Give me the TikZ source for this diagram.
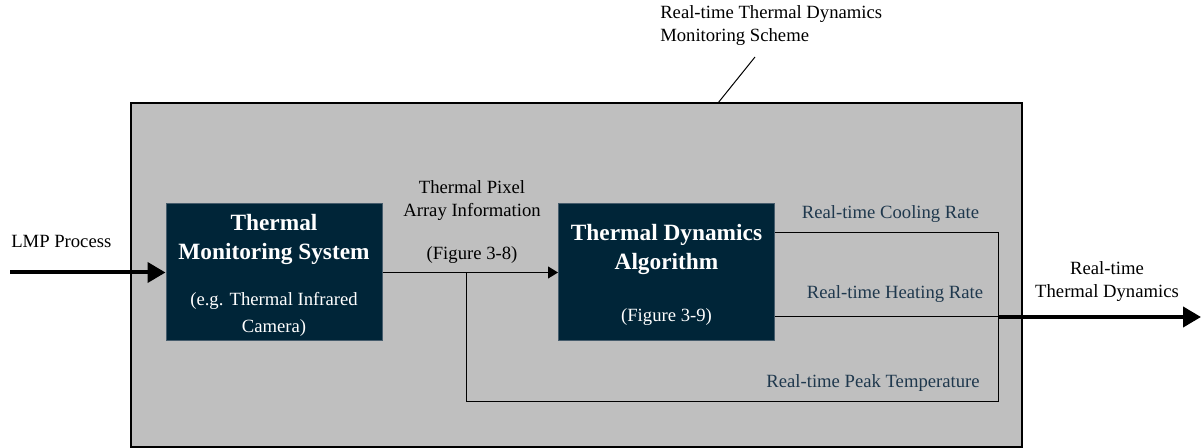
\documentclass[tikz,border=0pt]{standalone}
\usepackage{fontspec}
\setmainfont{Liberation Serif}
\usepackage{tikz}
\usetikzlibrary{arrows.meta}

\definecolor{schemegray}{RGB}{191,191,191}
\definecolor{blocknavy}{RGB}{0,37,56}
\definecolor{blockedge}{RGB}{70,92,108}
\definecolor{rateslate}{RGB}{31,56,77}

\newcommand{\blocktitle}{\fontsize{17.5}{21}\selectfont\bfseries}

\tikzset{
  schemebox/.style={draw=black,fill=schemegray,line width=1.5,minimum width=668.25pt,minimum height=258pt,inner sep=0pt},
  algobox/.style={draw=blockedge,fill=blocknavy,text=white,line width=0.75,minimum width=162pt,minimum height=102.75pt,inner sep=0pt,align=center,font=\fontsize{14}{20}\selectfont},
  plaintext/.style={inner sep=0.75pt,font=\fontsize{14}{17.25}\selectfont},
  ratetext/.style={plaintext,text=rateslate},
  thinarrow/.style={line width=0.75,-{Triangle[length=7.5pt,width=9pt]}},
  thickarrow/.style={line width=3,-{Triangle[length=13.5pt,width=15pt]}},
}

\begin{document}
\begin{tikzpicture}[x=0.75pt,y=0.75pt,yscale=-1,xscale=1]
\useasboundingbox (0,0) rectangle (1202,448);

%Shape: Rectangle [id:scheme]
\node[schemebox] (scheme) at (576.5,275) {};
%Shape: Rectangle [id:tms]
\node[algobox] (tms) at (274,272.5) {\rule{0pt}{16.5pt}\blocktitle Thermal\\[1.75pt] \blocktitle Monitoring System\\[14.5pt] (e.g. Thermal Infrared\\ Camera)};
%Shape: Rectangle [id:tda]
\node[algobox] (tda) at (666.5,272.5) {\rule{0pt}{16.5pt}\blocktitle Thermal Dynamics\\[1.75pt] \blocktitle Algorithm\\[19pt] (Figure 3-9)};

% corner points of the wiring
\coordinate (split) at (466,272.5);
\coordinate (cool) at (998,233);
\coordinate (bus) at (998,317);
\coordinate (peak) at (998,402);
\coordinate (lmp) at (10,272.5);
\coordinate (out) at (1201,317);
\coordinate (tag) at (755,57);
\coordinate (tagend) at (718,103);

%Straight Lines [id:pixels]
\draw[thinarrow] (tms.east) -- (tda.west);
%Straight Lines [id:peakpath]
\draw[line width=0.75] (split) |- (peak) -- (cool) -- (tda.east |- cool);
%Straight Lines [id:heating]
\draw[line width=0.75] (tda.east |- bus) -- (bus);
%Straight Lines [id:input]
\draw[thickarrow] (lmp) -- (tms.west);
%Straight Lines [id:output]
\draw[thickarrow] (bus) -- (out);
%Straight Lines [id:leader]
\draw[line width=0.75] (tag) -- (tagend);

% Text Node
\node[plaintext,anchor=west,align=left] (title) at (659,25.5) {Real-time Thermal Dynamics\\Monitoring Scheme};
% Text Node
\node[plaintext,anchor=base west] (lmplabel) at (10,248) {LMP Process};
% Text Node
\node[plaintext,align=center] (pixellabel) at (472,200.5) {Thermal Pixel\\Array Information};
% Text Node
\node[plaintext] (figlabel) at (472,255) {(Figure 3-8)};
% Text Node
\node[ratetext] (coollabel) at (890.5,214) {Real-time Cooling Rate};
% Text Node
\node[ratetext] (heatlabel) at (895,294) {Real-time Heating Rate};
% Text Node
\node[ratetext] (peaklabel) at (873,383) {Real-time Peak Temperature};
% Text Node
\node[plaintext,align=center] (outlabel) at (1107,281.5) {Real-time\\Thermal Dynamics};

\end{tikzpicture}
\end{document}
